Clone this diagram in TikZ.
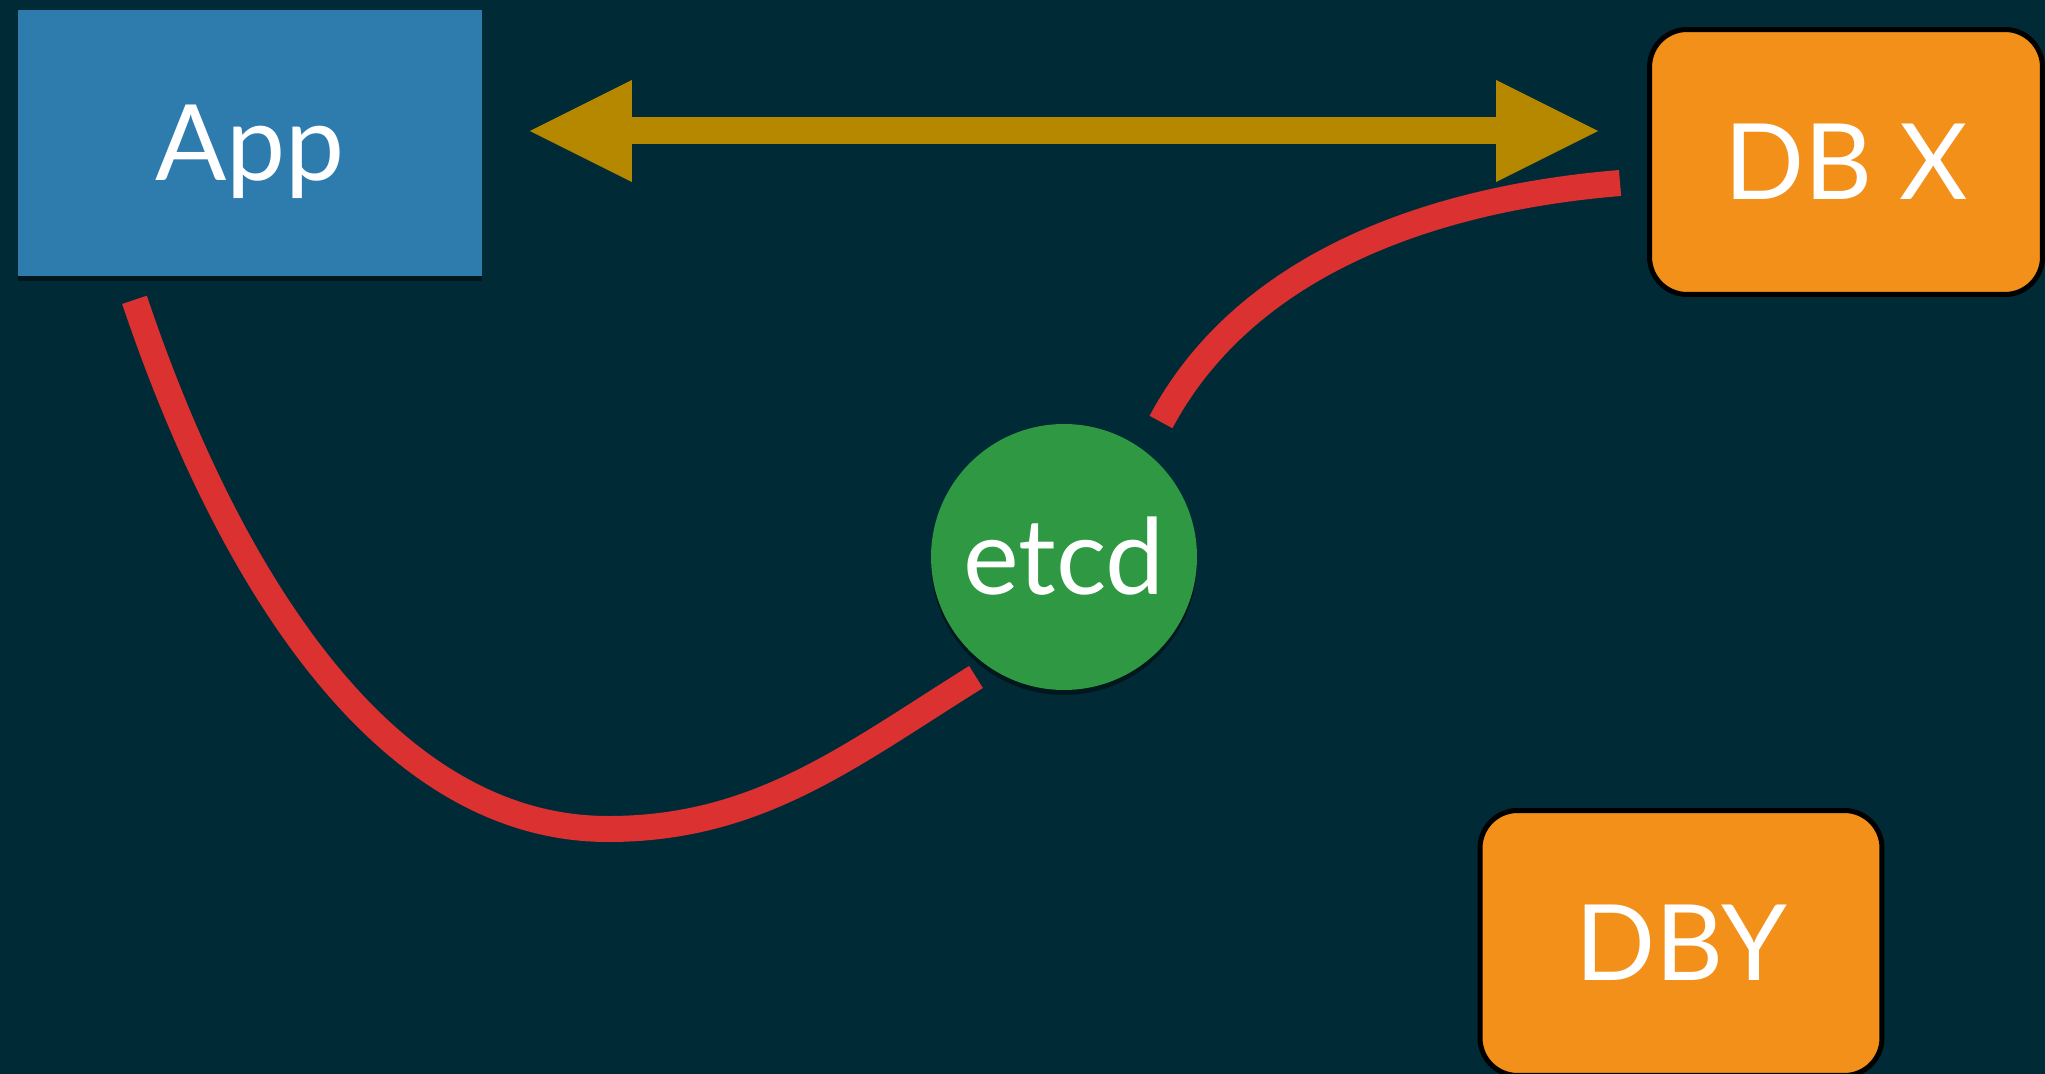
\documentclass[tikz,border=0pt]{standalone}
\usepackage{fontspec}
\setmainfont{Lato}
\usetikzlibrary{arrows.meta,shadows}

\definecolor{slidebg}{HTML}{012A37}
\definecolor{appblue}{HTML}{2E7BAE}
\definecolor{dborange}{HTML}{F2901A}
\definecolor{etcdgreen}{HTML}{2E9843}
\definecolor{watchred}{HTML}{DB3130}
\definecolor{syncgold}{HTML}{B58800}
\newcommand{\slidefont}{\fontsize{60}{72}\selectfont}

\begin{document}
\begin{tikzpicture}[x=0.02cm,y=-0.02cm]
\tikzset{every node/.style={text=white,font=\slidefont,text height=1.5cm,text depth=0pt}}
\tikzset{appbox/.style={fill=appblue,minimum width=9.3cm,minimum height=5.34cm,drop shadow={fill=black,opacity=0.45,shadow xshift=0pt,shadow yshift=-0.1cm}}}
\tikzset{dbbox/.style={fill=dborange,draw=black,line width=0.1cm,rounded corners=0.75cm,minimum width=7.86cm,minimum height=5.3cm}}
\tikzset{keystore/.style={circle,fill=etcdgreen,minimum size=5.32cm,inner sep=0pt,drop shadow={fill=black,opacity=0.45,shadow xshift=0pt,shadow yshift=-0.1cm}}}
\tikzset{watch/.style={draw=watchred,line width=0.52cm}}
\tikzset{sync/.style={draw=syncgold,line width=0.54cm,arrows={Triangle[length=2.04cm,width=2.04cm,line width=0pt]-Triangle[length=2.04cm,width=2.04cm,line width=0pt]}}}

\useasboundingbox (0,0) rectangle (2045,1074);
\clip (0,0) rectangle (2045,1074);
\fill[slidebg] (0,0) rectangle (2045,1074);

\node[appbox] (app) at (250,143) {App};
\node[dbbox] (dbx) at (1846,162) {DB X};
\node[dbbox,minimum width=8.04cm] (dby) at (1681,943) {DBY};
\node[keystore] (etcd) at (1064,557) {etcd};

\draw[sync] ([shift={(47,-12)}]app.east) -- ([shift={(-49,-31)}]dbx.west);

\draw[watch] ([shift={(-115.5,23)}]app.south) .. controls +(96,285) and +(-220,0) .. ([shift={(-456,272)}]etcd.center)
  .. controls +(150,0) and +(-127.5,79.5) .. ([shift={(-88,120)}]etcd.center);
\draw[watch] ([shift={(97,-135)}]etcd.center) .. controls +(86,-161) and +(-183,15) .. ([shift={(-27,21)}]dbx.west);

\end{tikzpicture}
\end{document}
